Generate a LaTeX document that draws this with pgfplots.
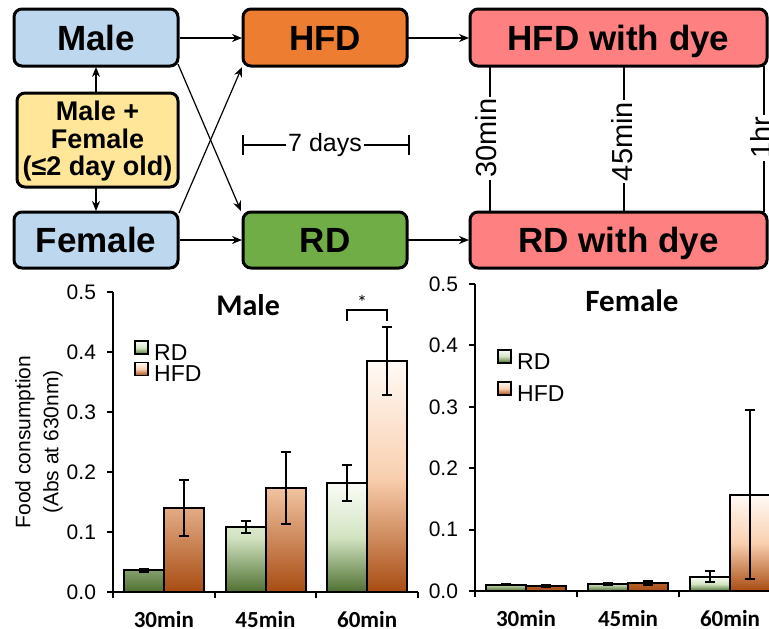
\documentclass[border=0pt]{standalone}
\usepackage{fontspec}
\setmainfont{Liberation Sans}
\newfontfamily\calfont{Carlito}
\usepackage{pgfplots}
\pgfplotsset{compat=1.18}
\usetikzlibrary{arrows.meta}

\definecolor{boxblue}{HTML}{BDD7EE}
\definecolor{boxyellow}{HTML}{FFE699}
\definecolor{boxorange}{HTML}{ED7D31}
\definecolor{boxgreen}{HTML}{70AD47}
\definecolor{boxsalmon}{HTML}{FF8080}
\definecolor{rdtop}{HTML}{FAFCF7}
\definecolor{rdmid}{HTML}{D3E3C2}
\definecolor{rdbot}{HTML}{4F7131}
\definecolor{hftop}{HTML}{FFFAF6}
\definecolor{hfmid}{HTML}{F9D0B0}
\definecolor{hfbot}{HTML}{A84C13}

\pgfplotsset{
  rdbar/.style={draw=black, line width=1pt, top color=rdtop, bottom color=rdbot, middle color=rdmid},
  hfbar/.style={draw=black, line width=1pt, top color=hftop, bottom color=hfbot, middle color=hfmid},
  myerr/.style={error bars/y dir=both, error bars/y explicit,
     error bars/error bar style={line width=1pt, solid, black},
     error bars/error mark options={rotate=90, line width=1pt, mark size=2.5pt, black}},
  myaxis/.style={
    scale only axis,
    axis lines=left, axis line style={-, line width=1pt, black},
    xmin=-0.5, xmax=2.5, ymin=0, ymax=0.5,
    ybar, bar width=20pt,
    xtick={-0.5,0.5,1.5,2.5}, xticklabels={{},{},{},{}},
    extra x ticks={0,1,2}, extra x tick labels={30min,45min,60min},
    extra x tick style={major tick length=0pt, grid=none,
       tick label style={font=\calfont\bfseries\fontsize{11.5}{12}\selectfont, yshift=-6pt}},
    ytick={0,0.1,0.2,0.3,0.4,0.5},
    yticklabel style={xshift=-2pt, /pgf/number format/.cd, fixed, fixed zerofill, precision=1},
    /pgf/number format/assume math mode=true,
    tick align=outside, major tick length=3pt,
    tick style={line width=1pt, black},
    ticklabel style={font=\fontsize{10.5}{12}\selectfont},
    legend image code/.code={\draw[##1, line width=0.9pt] (0pt,-1pt) rectangle (6.5pt,5.5pt);},
    legend cell align=left,
  }
}

\begin{document}
\begin{tikzpicture}
\useasboundingbox (0pt,0pt) rectangle (384.5pt,-314pt);
\clip (0pt,0pt) rectangle (384.5pt,-314pt);
\begin{scope}[x=0.5pt,y=-0.5pt]
\tikzset{box/.style={draw=black, line width=1.5pt, rounded corners=4pt},
  arr/.style={line width=0.6pt, -{Stealth[length=5pt,width=4pt]}},
  big/.style={font=\bfseries\fontsize{17.5}{20}\selectfont, anchor=base},
  mid/.style={font=\bfseries\fontsize{13.5}{15}\selectfont, anchor=base},
  sm/.style={font=\fontsize{12.5}{14}\selectfont},
  rot/.style={font=\fontsize{14.5}{16}\selectfont, rotate=90, fill=white, inner sep=1pt}}
% boxes
\draw[box, fill=boxblue] (14,9) rectangle (178,66);
\node[big] at (96,50) {Male};
\draw[box, fill=boxblue] (14,212) rectangle (178,268);
\node[big] at (96,252.5) {Female};
\draw[box, fill=boxyellow] (17,93) rectangle (178,187);
\node[mid] at (97.5,120) {Male +};
\node[mid] at (97.5,148) {Female};
\node[mid] at (97.5,175) {(≤2 day old)};
\draw[box, fill=boxorange] (243,9) rectangle (407,66);
\node[big] at (325,50) {HFD};
\draw[box, fill=boxgreen] (243,212) rectangle (407,268);
\node[big] at (325,252.5) {RD};
% time lines
\draw[line width=0.6pt] (490,66)--(490,212);
\draw[line width=0.6pt] (624,66)--(624,212);
\draw[line width=0.6pt] (764,66)--(764,212);
\node[rot] at (486,138) {30min};
\node[rot] at (622,141.5) {45min};
\node[rot] at (761,138) {1hr};
\draw[box, fill=boxsalmon] (470,9) rectangle (767,66);
\node[big] at (618.5,50) {HFD with dye};
\draw[box, fill=boxsalmon] (470,212) rectangle (767,268);
\node[big] at (618.5,252.5) {RD with dye};
% arrows
\draw[arr] (180,38)--(242,38);
\draw[arr] (180,240)--(242,240);
\draw[arr] (178,64)--(241,211);
\draw[arr] (179,213)--(242,67);
\draw[arr] (408,38)--(469,38);
\draw[arr] (408,240)--(469,240);
\draw[arr] (96,93)--(96,67);
\draw[arr] (96,187)--(96,211);
% 7 days
\draw[line width=0.6pt] (243,145)--(409,145);
\draw[line width=0.6pt] (243,135)--(243,155);
\draw[line width=0.6pt] (409,135)--(409,155);
\node[sm, anchor=base, fill=white, inner sep=1pt] at (325,151) {7 days};
\end{scope}

% Male chart
\begin{axis}[myaxis, at={(56.5pt,-296pt)}, anchor=south west, width=152.5pt, height=150pt,
  title={Male}, title style={at={(axis description cs:0.443,0.915)}, anchor=center,
     font=\calfont\bfseries\fontsize{15}{18}\selectfont},
  ylabel={Food consumption\\(Abs at 630nm)},
  every axis y label/.style={at={(axis description cs:-0.243,0.5)}, rotate=90, anchor=center,
     align=center, font=\fontsize{10.5}{14}\selectfont},
  legend style={at={(axis description cs:0.069,0.84)}, anchor=north west, draw=none, fill=none,
     inner sep=0pt, font=\fontsize{11.5}{12}\selectfont, row sep=0pt,
     nodes={inner sep=0.5pt, text height=8.3pt, text depth=0pt},
     /tikz/every odd column/.append style={column sep=2pt}},
]
\addplot[rdbar, bar shift=-10pt, myerr] coordinates {(0,0.036) +- (0,0.003) (1,0.108) +- (0,0.010) (2,0.182) +- (0,0.030)};
\addplot[hfbar, bar shift=10pt, myerr] coordinates {(0,0.140) +- (0,0.046) (1,0.173) +- (0,0.060) (2,0.385) +- (0,0.057)};
\legend{RD,HFD}
\draw[line width=1pt] (axis cs:1.803,0.452) -- (axis cs:1.803,0.47) -- (axis cs:2.197,0.47) -- (axis cs:2.197,0.452);
\node[font=\calfont\fontsize{10}{12}\selectfont] at (axis cs:1.95,0.482) {*};
\end{axis}

% Female chart
\begin{axis}[myaxis, at={(237.5pt,-295.5pt)}, anchor=south west, width=153pt, height=153.5pt,
  title={Female}, title style={at={(axis description cs:0.513,0.905)}, anchor=center,
     font=\calfont\bfseries\fontsize{15.5}{18}\selectfont},
  legend style={at={(axis description cs:0.072,0.79)}, anchor=north west, draw=none, fill=none,
     inner sep=0pt, font=\fontsize{11.5}{12}\selectfont, row sep=5.5pt,
     nodes={inner sep=0.5pt, text height=8.3pt, text depth=0pt},
     /tikz/every odd column/.append style={column sep=2pt}},
]
\addplot[rdbar, bar shift=-10pt, myerr] coordinates {(0,0.010) +- (0,0.001) (1,0.011) +- (0,0.002) (2,0.023) +- (0,0.009)};
\addplot[hfbar, bar shift=10pt, myerr] coordinates {(0,0.008) +- (0,0.002) (1,0.013) +- (0,0.003) (2,0.157) +- (0,0.138)};
\legend{RD,HFD}
\end{axis}
\end{tikzpicture}
\end{document}
